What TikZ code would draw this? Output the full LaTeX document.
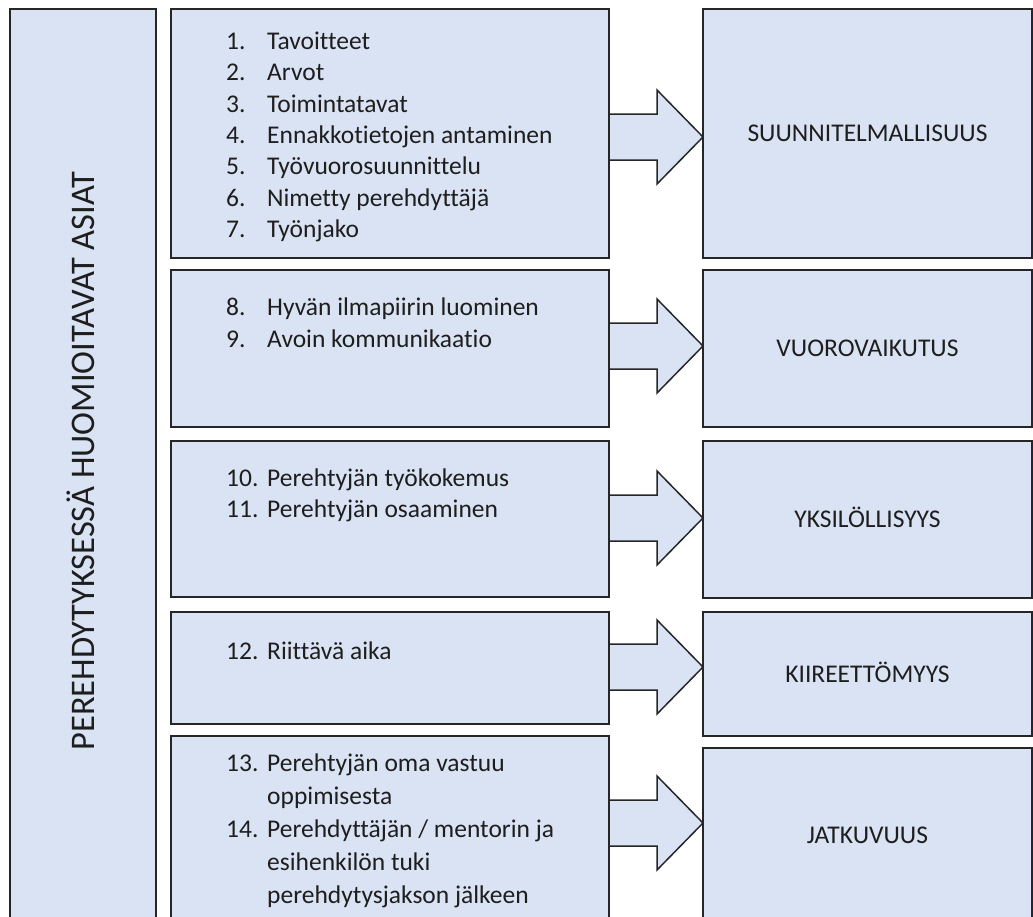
\documentclass[tikz,border=0pt]{standalone}
\usepackage{fontspec}
\setmainfont{Carlito}[Ligatures=CommonOff]
\usetikzlibrary{calc}
\pgfdeclarelayer{background}
\pgfsetlayers{background,main}
\definecolor{boxfill}{HTML}{DAE3F3}
\definecolor{boxline}{HTML}{262626}
\definecolor{inktext}{HTML}{1E1E1E}
% number column of the item lists
\newcommand\numitem[2]{\makebox[41pt][l]{#1}#2}
% block arrow from the east side of #1 to the west side of #2, tip at height #3
\newcommand\blockarrow[3]{%
  \coordinate (#1-#2-a) at (#1.east |- 0,#3);
  \coordinate (#1-#2-b) at (#2.west |- 0,#3);
  \draw[arrowshape] ($(#1-#2-a)+(0,-23)$) -- ($(#1-#2-b)+(-46,-23)$)
    -- ($(#1-#2-b)+(-46,-47)$) -- (#1-#2-b) -- ($(#1-#2-b)+(-46,47)$)
    -- ($(#1-#2-b)+(-46,23)$) -- ($(#1-#2-a)+(0,23)$);
}
\begin{document}
\begin{tikzpicture}[x=1pt,y=-1pt,
  box/.style={draw=boxline, fill=boxfill, line width=1.5pt, rectangle,
    anchor=north west, inner sep=0pt, outer sep=0pt},
  midbox/.style={box, minimum width=438pt},
  resbox/.style={box, minimum width=329pt, text=inktext,
    font=\fontsize{25.5}{31}\selectfont, text height=16.4pt, text depth=0pt},
  listline/.style={anchor=base west, inner sep=0pt, text=inktext,
    font=\fontsize{25.5}{31}\selectfont},
  arrowshape/.style={draw=boxline, fill=boxfill, line width=1.5pt, line join=miter},
]
\clip (0,0) rectangle (1033,916);
\useasboundingbox (0,0) rectangle (1033,916);

% left column
\node[box, minimum width=146pt, minimum height=930pt] (side) at (10,9) {};
\node[rotate=90, inner sep=0pt, text=inktext, font=\fontsize{34.5}{40}\selectfont,
  text height=22.2pt, text depth=0pt] (title) at (83.5,461)
  {PEREHDYTYKSESSÄ HUOMIOITAVAT ASIAT};

% middle column
\node[midbox, minimum height=249pt] (m1) at (171,9) {};
\node[midbox, minimum height=157pt] (m2) at (171,270) {};
\node[midbox, minimum height=156pt] (m3) at (171,441) {};
\node[midbox, minimum height=112pt] (m4) at (171,612) {};
\node[midbox, minimum height=200pt] (m5) at (171,736) {};

% right column
\node[resbox, minimum height=249pt] (r1) at (703,9) {SUUNNITELMALLISUUS};
\node[resbox, minimum height=157pt] (r2) at (703,270) {VUOROVAIKUTUS};
\node[resbox, minimum height=157pt] (r3) at (703,441) {YKSILÖLLISYYS};
\node[resbox, minimum height=124pt] (r4) at (703,612) {KIIREETTÖMYYS};
\node[resbox, minimum height=174pt] (r5) at (703,748) {JATKUVUUS};

% item lists
\node[listline] (i1) at (226,49.5) {\numitem{1.}{Tavoitteet}};
\node[listline] (i2) at (226,80.9) {\numitem{2.}{Arvot}};
\node[listline] (i3) at (226,112.2) {\numitem{3.}{Toimintatavat}};
\node[listline] (i4) at (226,143.6) {\numitem{4.}{Ennakkotietojen antaminen}};
\node[listline] (i5) at (226,174.9) {\numitem{5.}{Työvuorosuunnittelu}};
\node[listline] (i6) at (226,206.3) {\numitem{6.}{Nimetty perehdyttäjä}};
\node[listline] (i7) at (226,237.6) {\numitem{7.}{Työnjako}};

\node[listline] (i8) at (226,315) {\numitem{8.}{Hyvän ilmapiirin luominen}};
\node[listline] (i9) at (226,347) {\numitem{9.}{Avoin kommunikaatio}};

\node[listline] (i10) at (226,486) {\numitem{10.}{Perehtyjän työkokemus}};
\node[listline] (i11) at (226,517) {\numitem{11.}{Perehtyjän osaaminen}};

\node[listline] (i12) at (226,659) {\numitem{12.}{Riittävä aika}};

\node[listline] (i13) at (226,771) {\numitem{13.}{Perehtyjän oma vastuu}};
\node[listline] (i13b) at (226,804) {\numitem{}{oppimisesta}};
\node[listline] (i14) at (226,837) {\numitem{14.}{Perehdyttäjän / mentorin ja}};
\node[listline] (i14b) at (226,870) {\numitem{}{esihenkilön tuki}};
\node[listline] (i14c) at (226,903) {\numitem{}{perehdytysjakson jälkeen}};

% connecting arrows, kept under the box outlines
\begin{pgfonlayer}{background}
  \blockarrow{m1}{r1}{137}
  \blockarrow{m2}{r2}{346}
  \blockarrow{m3}{r3}{518}
  \blockarrow{m4}{r4}{667}
  \blockarrow{m5}{r5}{823}
\end{pgfonlayer}
\end{tikzpicture}
\end{document}
